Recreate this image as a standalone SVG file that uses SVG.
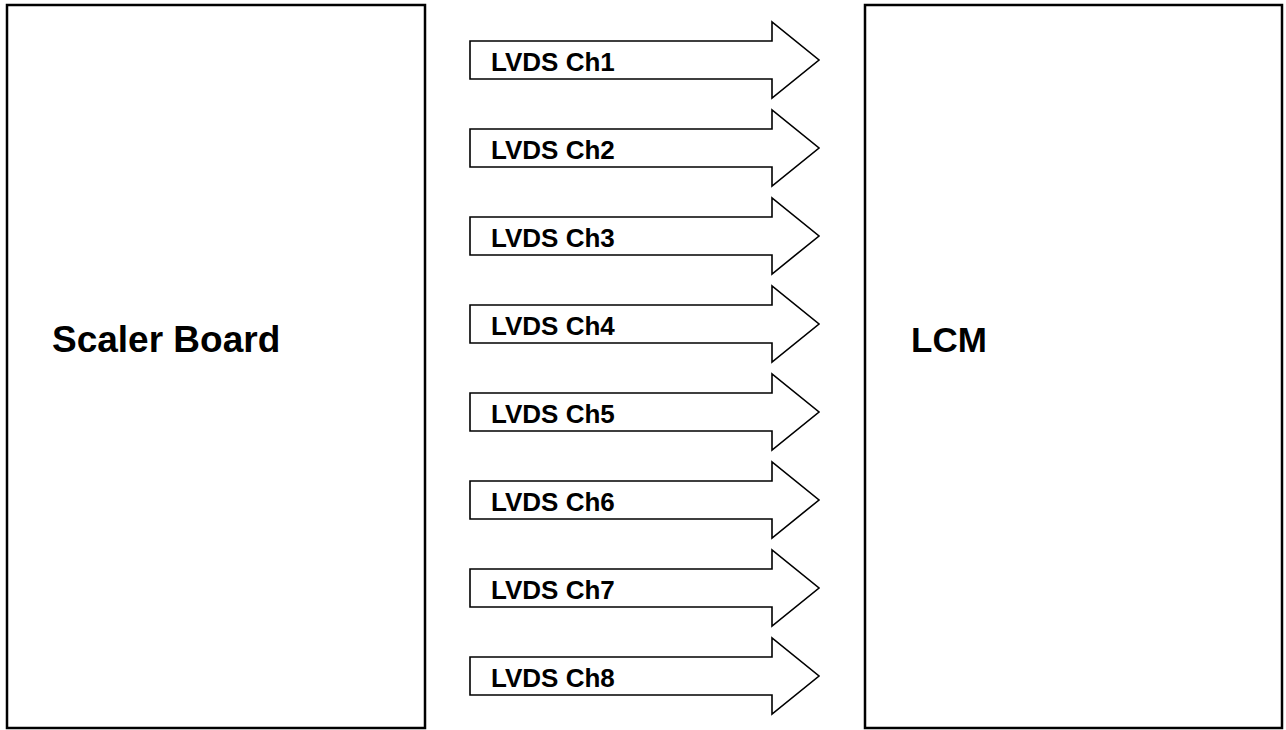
<svg xmlns="http://www.w3.org/2000/svg" xmlns:xlink="http://www.w3.org/1999/xlink" width="1286" height="730" viewBox="0 0 1286 730">
<style>
.box{fill:#fff;stroke:#000;stroke-width:2.5}
.arr{fill:#fff;stroke:#000;stroke-width:1.6;stroke-linejoin:miter}
.lbl{font-family:"Liberation Sans",Arial,sans-serif;font-weight:bold;font-size:26px;fill:#000}
.big{font-family:"Liberation Sans",Arial,sans-serif;font-weight:bold;font-size:37px;fill:#000}
</style>
<defs>
<path id="arrowShape" class="arr" d="M470,41 H772 V22 L819,60 L772,98 V79 H470 Z"/>
</defs>
<rect width="1286" height="730" fill="#fff"/>
<g id="scaler-board">
<rect class="box" x="7" y="5" width="418" height="723"/>
<text class="big" x="52" y="352">Scaler Board</text>
</g>
<g id="lcm">
<rect class="box" x="865" y="5" width="417" height="723"/>
<text class="big" x="911" y="352" style="font-size:35px">LCM</text>
</g>
<g id="connectors">
<g id="ch1"><use xlink:href="#arrowShape"/><text class="lbl" x="491" y="71">LVDS Ch1</text></g>
<g id="ch2" transform="translate(0,88)"><use xlink:href="#arrowShape"/><text class="lbl" x="491" y="71">LVDS Ch2</text></g>
<g id="ch3" transform="translate(0,176)"><use xlink:href="#arrowShape"/><text class="lbl" x="491" y="71">LVDS Ch3</text></g>
<g id="ch4" transform="translate(0,264)"><use xlink:href="#arrowShape"/><text class="lbl" x="491" y="71">LVDS Ch4</text></g>
<g id="ch5" transform="translate(0,352)"><use xlink:href="#arrowShape"/><text class="lbl" x="491" y="71">LVDS Ch5</text></g>
<g id="ch6" transform="translate(0,440)"><use xlink:href="#arrowShape"/><text class="lbl" x="491" y="71">LVDS Ch6</text></g>
<g id="ch7" transform="translate(0,528)"><use xlink:href="#arrowShape"/><text class="lbl" x="491" y="71">LVDS Ch7</text></g>
<g id="ch8" transform="translate(0,616)"><use xlink:href="#arrowShape"/><text class="lbl" x="491" y="71">LVDS Ch8</text></g>
</g>
</svg>
